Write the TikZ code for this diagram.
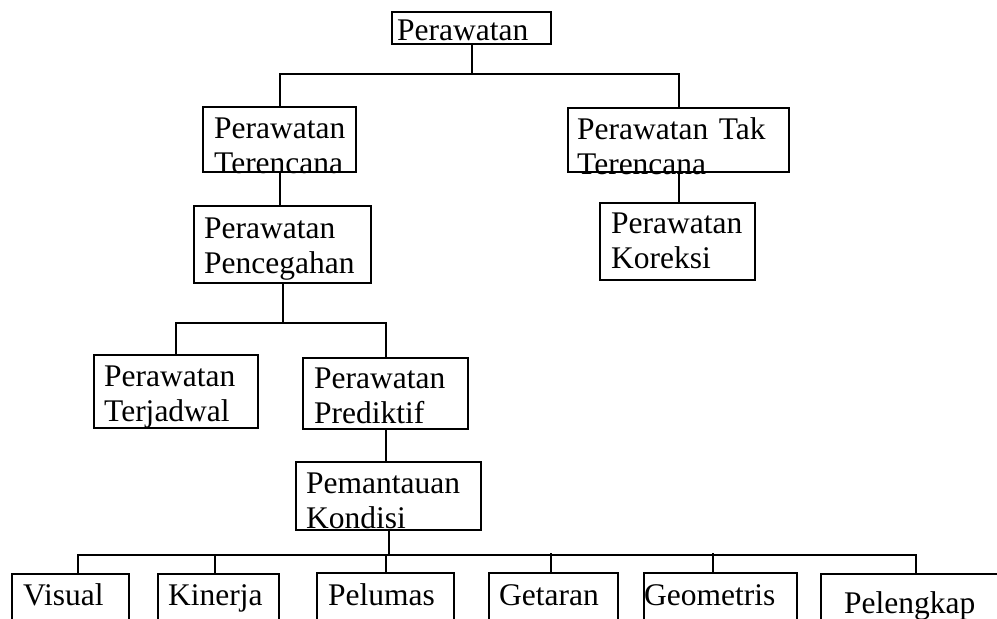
\documentclass[tikz,border=0pt]{standalone}
\usepackage{fontspec}
\setmainfont{Liberation Serif}
\newcommand\boxfont{\fontsize{31.5}{35}\selectfont}
\tikzset{lpad/.style={execute at begin node={\leftskip=#1pt}}}

\begin{document}
\begin{tikzpicture}[x=1pt,y=-1pt]
\tikzstyle{box} = [draw,line width=2.4pt,anchor=north west,inner sep=0pt,align=left,text height=31pt,lpad=10,font=\boxfont]
\tikzstyle{link} = [line width=1.8pt]

\useasboundingbox (0,0) rectangle (997,619);
\fill[white] (0,0) rectangle (997,619);

\node[box,text width=159pt,text height=28pt,text depth=4pt,lpad=5] (top) at (391,11) {Perawatan};
\node[box,text width=153pt,text depth=34pt,lpad=11] (ter) at (202,106) {Perawatan\\Terencana};
\node[box,text width=221pt,text depth=33pt,lpad=9] (tak) at (567,107) {Perawatan Tak\\Terencana};
\node[box,text width=177pt,text height=32pt,text depth=45pt] (cegah) at (193,205) {Perawatan\\Pencegahan};
\node[box,text width=155pt,text height=30pt,text depth=47pt,lpad=11] (koreksi) at (599,202) {Perawatan\\Koreksi};
\node[box,text width=164pt,text depth=42pt] (jadwal) at (93,354) {Perawatan\\Terjadwal};
\node[box,text width=165pt,text height=30pt,text depth=41pt,lpad=11] (prediktif) at (302,357) {Perawatan\\Prediktif};
\node[box,text width=185pt,text depth=37pt] (kondisi) at (295,461) {Pemantauan\\Kondisi};

\node[box,text width=117pt,text depth=30pt,lpad=11] (vis) at (11,573) {Visual};
\node[box,text width=121pt,text depth=30pt] (kin) at (157,573) {Kinerja};
\node[box,text width=137pt,text height=32pt,text depth=30pt,lpad=11] (pel) at (316,572) {Pelumas};
\node[box,text width=129pt,text height=32pt,text depth=30pt] (get) at (488,572) {Getaran};
\node[box,text width=153pt,text height=32pt,text depth=30pt,lpad=0] (geo) at (643,572) {Geometris};
\node[box,text width=200pt,text height=39pt,text depth=30pt,lpad=23] (lgk) at (820,573) {Pelengkap};

\coordinate (bar1) at (471,74);
\coordinate (bar2) at (282,323);
\coordinate (bar3) at (387,555);

\draw[link] (top.south) -- (top.south |- bar1);
\draw[link] (ter.north) |- (bar1) -| (tak.north);
\draw[link] (ter.south) -- (ter.south |- cegah.north);
\draw[link] (tak.south) -- (tak.south |- koreksi.north);
\draw[link] (cegah.south) -- (cegah.south |- bar2);
\draw[link] (jadwal.north) |- (bar2) -| (prediktif.north);
\draw[link] (prediktif.south) -- (prediktif.south |- kondisi.north);
\draw[link] (kondisi.south) -- (kondisi.south |- bar3);
\draw[link] (78,555 |- vis.north) |- (bar3) -| (916,555 |- lgk.north);
\draw[link] (215,555) -- (215,555 |- kin.north);
\draw[link] (386,555) -- (386,555 |- pel.north);
\draw[link] (551,553) -- (551,553 |- get.north);
\draw[link] (713,553) -- (713,553 |- geo.north);
\end{tikzpicture}
\end{document}
